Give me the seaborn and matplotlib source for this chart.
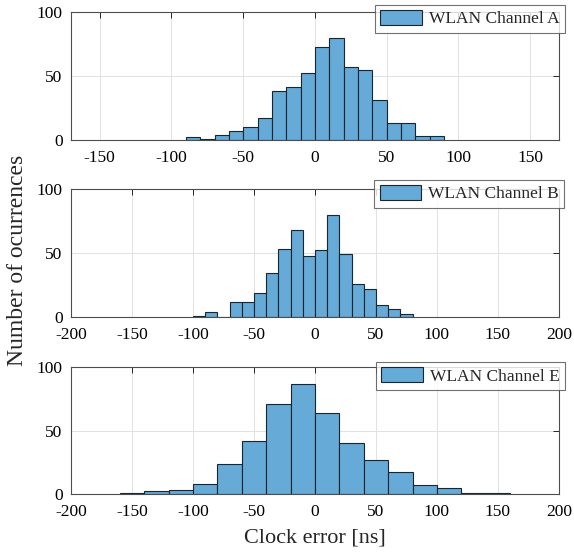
import numpy as np
import pandas as pd
import matplotlib
matplotlib.use("Agg")
import matplotlib.pyplot as plt
import seaborn as sns

# bin edges and counts
edges_a = list(range(-90, 91, 10))
counts_a = [2, 1, 4, 7, 10, 17, 38, 41, 52, 73, 80, 57, 55, 31, 13, 13, 3, 3]

edges_b = list(range(-100, 81, 10))
counts_b = [1, 4, 0, 12, 12, 19, 34, 53, 68, 48, 52, 80, 49, 26, 22, 9, 6, 2]

edges_e = list(range(-160, 161, 20))
counts_e = [1, 2, 3, 8, 24, 42, 71, 87, 64, 40, 27, 17, 7, 5, 1, 1]

labels = ['WLAN Channel A', 'WLAN Channel B', 'WLAN Channel E']
xlims = [(-170, 170), (-200, 200), (-200, 200)]
yticks = [0, 50, 100]

sns.set_theme(style='white')
plt.rcParams['font.family'] = ['Liberation Serif', 'DejaVu Serif']
plt.rcParams['axes.unicode_minus'] = False

fig = plt.figure(figsize=(5.74, 5.52), dpi=100)
positions = [[0.1237, 0.7464, 0.850, 0.232],
             [0.1237, 0.4257, 0.850, 0.232],
             [0.1237, 0.1051, 0.850, 0.230]]
legend_anchor = [(0.984, 0.991), (0.983, 0.674), (0.984, 0.344)]

data = [(edges_a, counts_a), (edges_b, counts_b), (edges_e, counts_e)]
axes = []
for i, (edges, counts) in enumerate(data):
    ax = fig.add_axes(positions[i])
    e = np.array(edges, dtype=float)
    df = pd.DataFrame({'err': (e[:-1] + e[1:]) / 2, 'n': counts})
    sns.histplot(data=df, x='err', weights='n', bins=edges, ax=ax,
                 color='#66AAD7', alpha=1.0, edgecolor='#1b2530',
                 linewidth=0.8, label=labels[i])
    ax.set_xlim(*xlims[i])
    ax.set_ylim(0, 100)
    ax.set_yticks(yticks)
    ax.set_ylabel('')
    ax.set_xlabel('')
    ax.grid(True, color='#e2e2e2', linewidth=0.7)
    ax.set_axisbelow(True)
    ax.tick_params(direction='in', length=4, width=0.7, colors='#262626',
                   labelsize=12.5, labelcolor='black',
                   top=True, right=True)
    ax.tick_params(axis='x', pad=7)
    ax.tick_params(axis='y', pad=6)
    for sp in ax.spines.values():
        sp.set_color('#4d4d4d')
        sp.set_linewidth(0.8)
    leg = ax.legend(loc='upper right', bbox_to_anchor=legend_anchor[i],
                    bbox_transform=fig.transFigure, borderaxespad=0,
                    fontsize=12.5, frameon=True, fancybox=False,
                    handlelength=2.4, handleheight=0.9, handletextpad=0.4,
                    borderpad=0.3)
    leg.get_frame().set_edgecolor('#4d4d4d')
    leg.get_frame().set_linewidth(0.8)
    axes.append(ax)

axes[2].set_xlabel('Clock error [ns]', fontsize=16, labelpad=6)
fig.text(0.030, 0.529, 'Number of ocurrences', rotation=90, fontsize=17,
         ha='center', va='center')

fig.savefig('out.png', dpi=100)
